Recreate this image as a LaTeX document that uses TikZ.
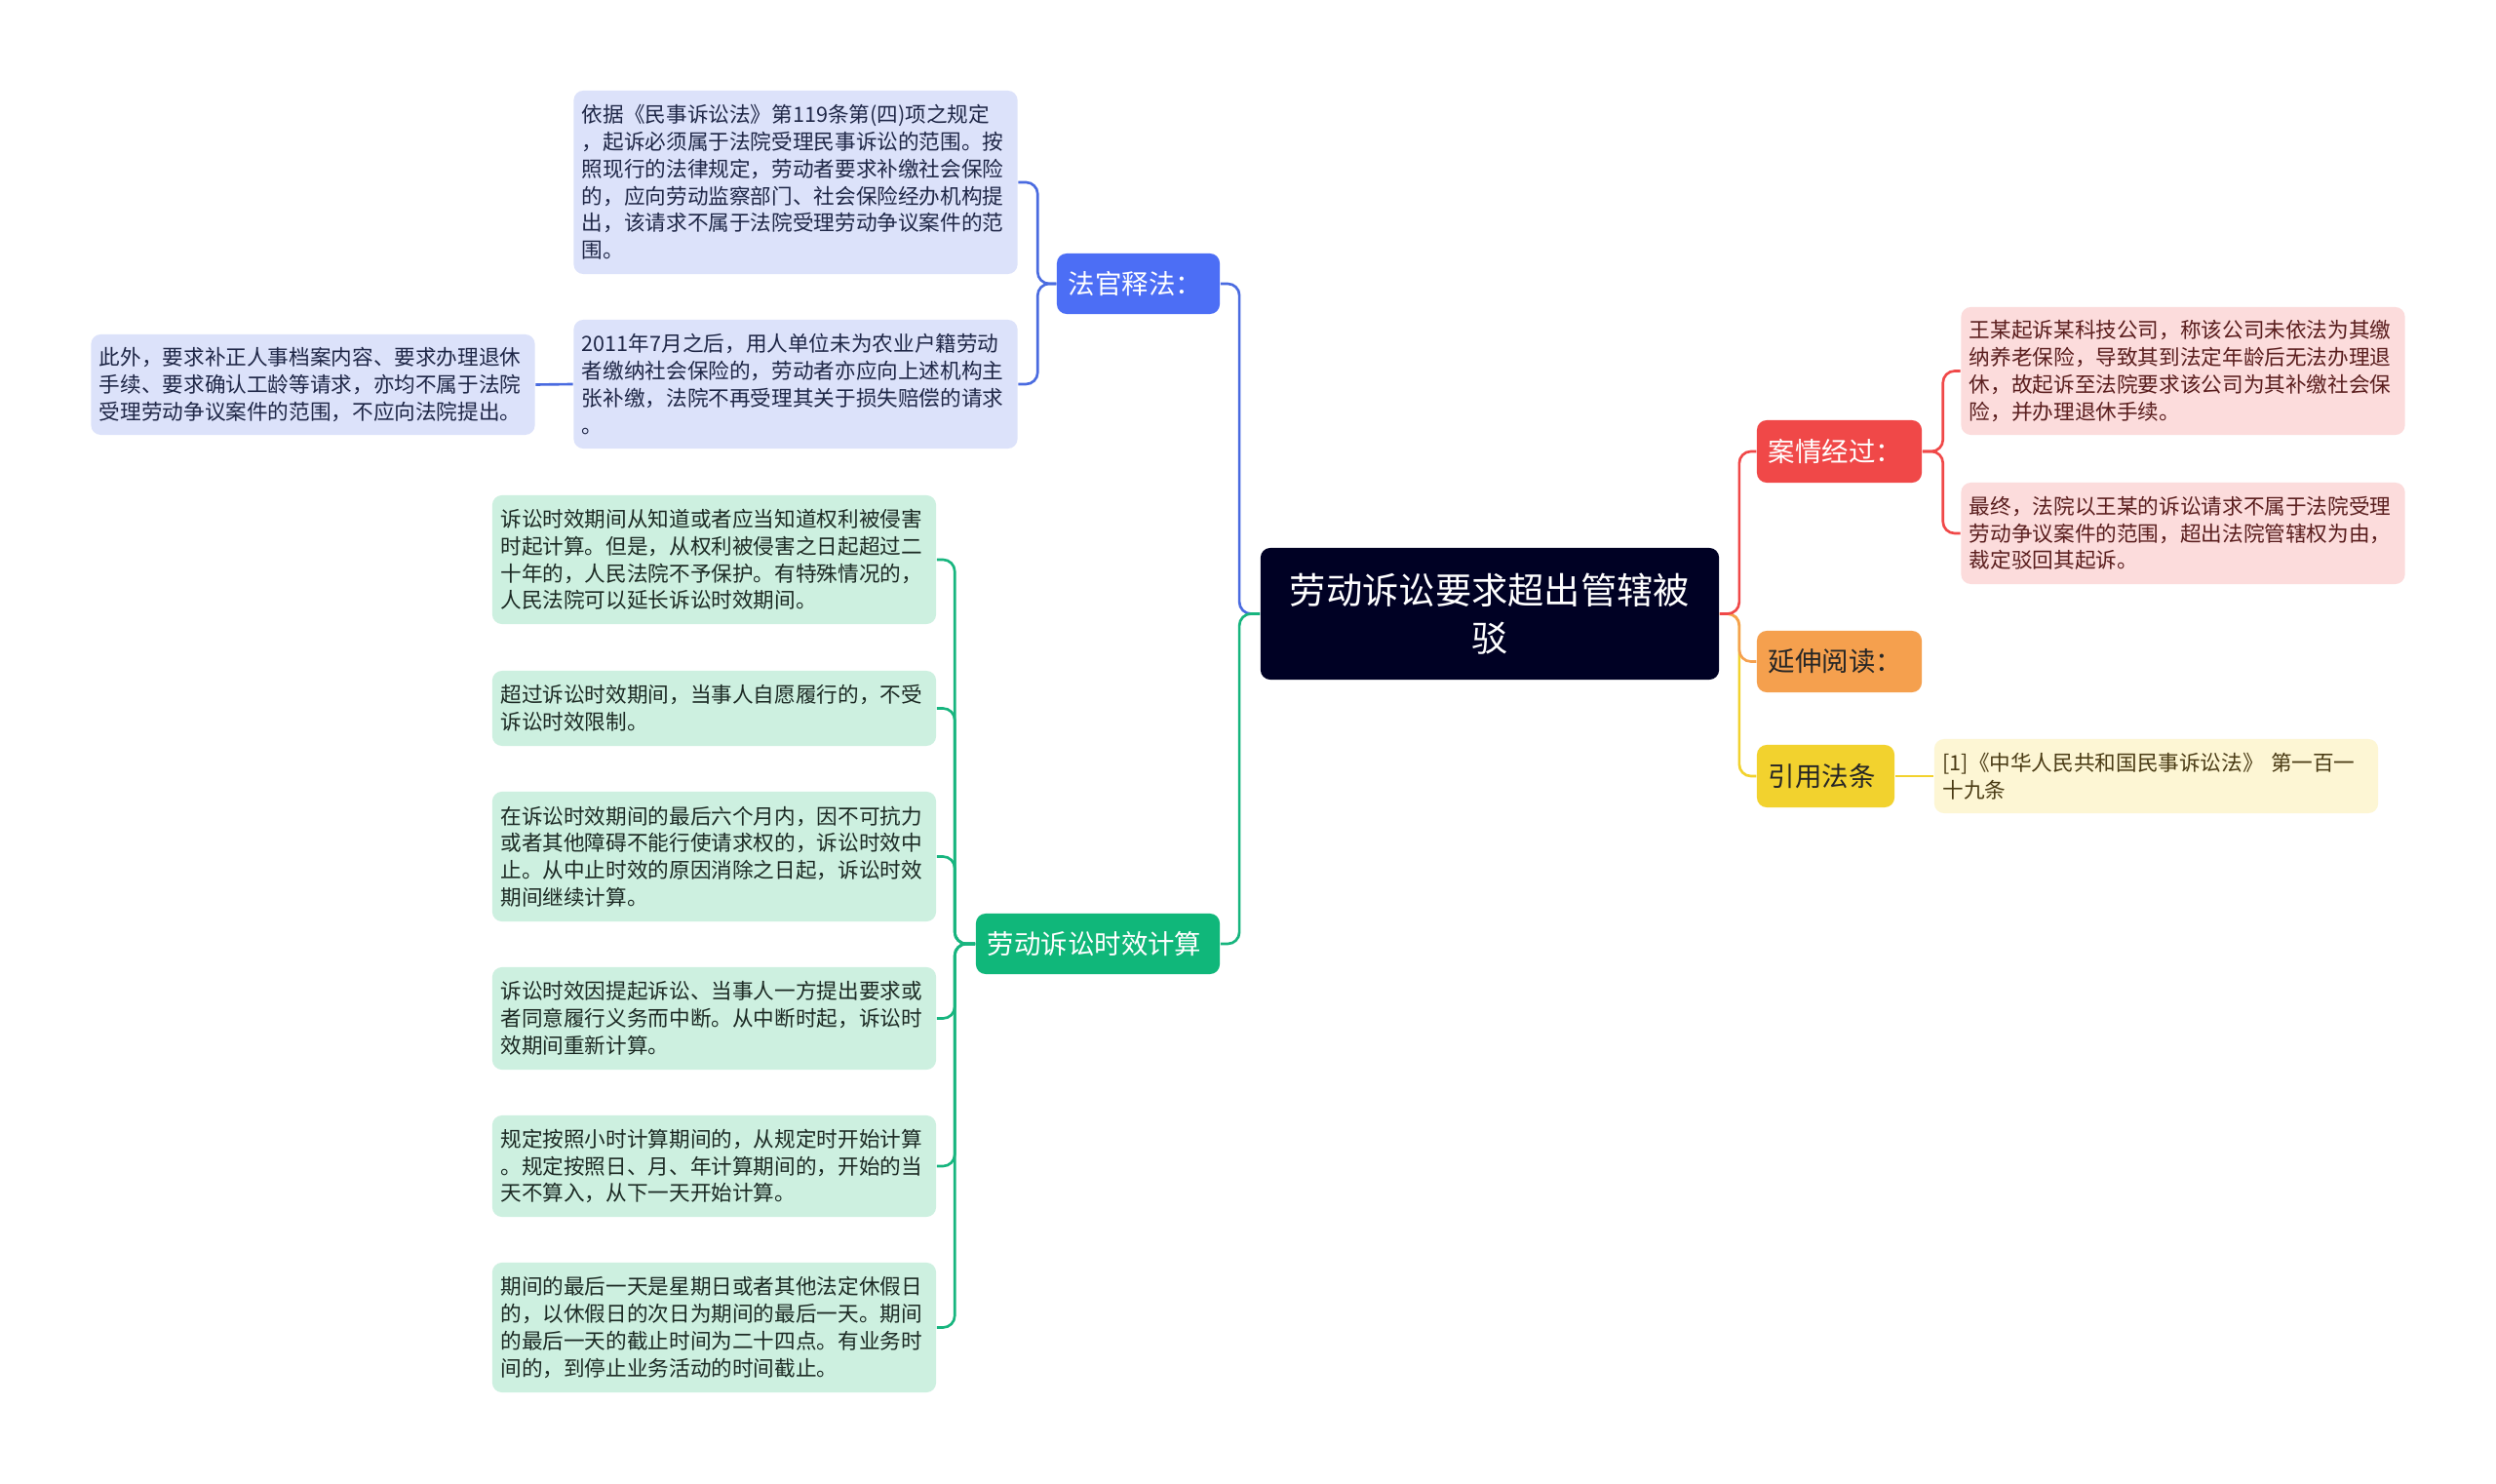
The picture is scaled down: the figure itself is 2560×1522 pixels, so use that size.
\documentclass[tikz,border=0pt]{standalone}
\usepackage{fontspec}
\newfontfamily\cjk{Noto Sans CJK SC}
\definecolor{rootc}{HTML}{000124}
\definecolor{blueM}{HTML}{4C6EF5}
\definecolor{blueL}{HTML}{4A6BE0}
\definecolor{blueF}{HTML}{DCE2FA}
\definecolor{greenM}{HTML}{10B77A}
\definecolor{greenL}{HTML}{17B57E}
\definecolor{greenF}{HTML}{CDF0E0}
\definecolor{redM}{HTML}{F04848}
\definecolor{redF}{HTML}{FCDCDC}
\definecolor{orangeM}{HTML}{F5A04E}
\definecolor{yellowM}{HTML}{F2D22E}
\definecolor{yellowF}{HTML}{FDF6D4}
\definecolor{txtB}{HTML}{1F2747}
\definecolor{txtG}{HTML}{1C2A24}
\definecolor{txtR}{HTML}{5A1E1E}
\definecolor{txtY}{HTML}{4A3B14}
\tikzset{
  leaf/.style={rounded corners=0.1cm, inner xsep=0.085cm, inner ysep=0pt, text width=4.38cm, align=left,
    font=\cjk\fontsize{6.15pt}{7.9pt}\selectfont},
  lbl/.style={rounded corners=0.1cm, inner xsep=0.12cm, inner ysep=0pt, align=left,
    font=\cjk\fontsize{7.8pt}{9.5pt}\selectfont},
  rootbox/.style={rounded corners=0.1cm, fill=rootc, text=white, inner sep=0pt, align=center,
    font=\cjk\fontsize{10.6pt}{13.9pt}\selectfont},
  conn/.style={line width=0.75pt, rounded corners=0.12cm}
}
\begin{document}
\begin{tikzpicture}[x=0.01cm,y=-0.01cm]
\fill[white] (0,0) rectangle (2560,1522);
\useasboundingbox (0,0) rectangle (2560,1522);

% root
\node[rootbox, minimum width=4.70cm, minimum height=1.35cm] (root) at (1528,629.5) {劳动诉讼要求超出管辖被\\驳};

% left: blue branch
\node[lbl, fill=blueM, text=white, text width=1.43cm, minimum height=0.62cm] (fg) at (1167.5,291) {法官释法：};
\node[leaf, fill=blueF, text=txtB, minimum height=1.88cm] (b1) at (816,187) {依据《民事诉讼法》第119条第(四)项之规定\\，起诉必须属于法院受理民事诉讼的范围。按\\照现行的法律规定，劳动者要求补缴社会保险\\的，应向劳动监察部门、社会保险经办机构提\\出，该请求不属于法院受理劳动争议案件的范\\围。};
\node[leaf, fill=blueF, text=txtB, minimum height=1.32cm] (b2) at (816,394) {2011年7月之后，用人单位未为农业户籍劳动\\者缴纳社会保险的，劳动者亦应向上述机构主\\张补缴，法院不再受理其关于损失赔偿的请求\\。};
\node[leaf, fill=blueF, text=txtB, minimum height=1.03cm] (b3) at (321,394.5) {此外，要求补正人事档案内容、要求办理退休\\手续、要求确认工龄等请求，亦均不属于法院\\受理劳动争议案件的范围，不应向法院提出。};

% left: green branch
\node[lbl, fill=greenM, text=white, text width=2.26cm, minimum height=0.62cm] (gl) at (1126,968) {劳动诉讼时效计算};
\node[leaf, fill=greenF, text=txtG, minimum height=1.32cm] (g1) at (732.5,574) {诉讼时效期间从知道或者应当知道权利被侵害\\时起计算。但是，从权利被侵害之日起超过二\\十年的，人民法院不予保护。有特殊情况的，\\人民法院可以延长诉讼时效期间。};
\node[leaf, fill=greenF, text=txtG, minimum height=0.77cm] (g2) at (732.5,726.5) {超过诉讼时效期间，当事人自愿履行的，不受\\诉讼时效限制。};
\node[leaf, fill=greenF, text=txtG, minimum height=1.33cm] (g3) at (732.5,878.5) {在诉讼时效期间的最后六个月内，因不可抗力\\或者其他障碍不能行使请求权的，诉讼时效中\\止。从中止时效的原因消除之日起，诉讼时效\\期间继续计算。};
\node[leaf, fill=greenF, text=txtG, minimum height=1.05cm] (g4) at (732.5,1044.5) {诉讼时效因提起诉讼、当事人一方提出要求或\\者同意履行义务而中断。从中断时起，诉讼时\\效期间重新计算。};
\node[leaf, fill=greenF, text=txtG, minimum height=1.04cm] (g5) at (732.5,1196) {规定按照小时计算期间的，从规定时开始计算\\。规定按照日、月、年计算期间的，开始的当\\天不算入，从下一天开始计算。};
\node[leaf, fill=greenF, text=txtG, minimum height=1.33cm] (g6) at (732.5,1361.5) {期间的最后一天是星期日或者其他法定休假日\\的，以休假日的次日为期间的最后一天。期间\\的最后一天的截止时间为二十四点。有业务时\\间的，到停止业务活动的时间截止。};

% right branches
\node[lbl, fill=redM, text=white, text width=1.45cm, minimum height=0.64cm] (case) at (1886.5,463) {案情经过：};
\node[lbl, fill=orangeM, text=black!85, text width=1.45cm, minimum height=0.63cm] (ext) at (1886.5,678.5) {延伸阅读：};
\node[lbl, fill=yellowM, text=black!85, text width=1.17cm, minimum height=0.64cm] (cite) at (1872.5,796) {引用法条};
\node[leaf, fill=redF, text=txtR, minimum height=1.31cm] (r1) at (2239,380.5) {王某起诉某科技公司，称该公司未依法为其缴\\纳养老保险，导致其到法定年龄后无法办理退\\休，故起诉至法院要求该公司为其补缴社会保\\险，并办理退休手续。};
\node[leaf, fill=redF, text=txtR, minimum height=1.04cm] (r2) at (2239,547) {最终，法院以王某的诉讼请求不属于法院受理\\劳动争议案件的范围，超出法院管辖权为由，\\裁定驳回其起诉。};
\node[leaf, fill=yellowF, text=txtY, minimum height=0.76cm] (yl) at (2211.5,796) {[1]《中华人民共和国民事诉讼法》 第一百一\\十九条};

% connectors
\draw[conn, draw=blueL] (root.west) -- ++(-21,0) |- (fg.east);
\draw[conn, draw=greenL] (root.west) -- ++(-21,0) |- (gl.east);
\draw[conn, draw=blueL] (fg.west) -- ++(-19,0) |- (b1.east);
\draw[conn, draw=blueL] (fg.west) -- ++(-19,0) |- (b2.east);
\draw[conn, draw=blueL] (b2.west) -- (b3.east);
\foreach \g in {g1,g2,g3,g4,g5,g6}
  \draw[conn, draw=greenL] (gl.west) -- ++(-21,0) |- (\g.east);
\draw[conn, draw=yellowM] (root.east) -- ++(20,0) |- (cite.west);
\draw[conn, draw=orangeM] (root.east) -- ++(20,0) |- (ext.west);
\draw[conn, draw=redM] (root.east) -- ++(20,0) |- (case.west);
\draw[conn, draw=redM] (case.east) -- ++(21,0) |- (r1.west);
\draw[conn, draw=redM] (case.east) -- ++(21,0) |- (r2.west);
\draw[conn, draw=yellowM] (cite.east) -- (yl.west);
\end{tikzpicture}
\end{document}
